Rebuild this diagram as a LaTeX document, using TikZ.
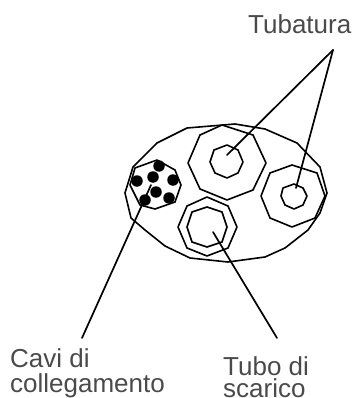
\documentclass[tikz,border=0pt]{standalone}
\usepackage{fontspec}
\setmainfont{Liberation Sans}
\definecolor{labelgrey}{HTML}{4A4A4A}
\tikzset{
  px/.style={x=1pt,y=-1pt},
  wire/.style={draw=black,line width=1.7pt,line join=round,line cap=round},
  thinwire/.style={draw=black,line width=1.6pt,line join=round},
  strand/.style={circle,fill=black,draw=none,minimum size=11.5pt,inner sep=0pt},
  lbl/.style={anchor=base west,inner sep=0pt,text=labelgrey,font=\fontsize{26pt}{28pt}\selectfont}
}
\begin{document}
\begin{tikzpicture}[px]
\useasboundingbox (0,0) rectangle (353,398);
\clip (0,0) rectangle (353,398);
% outer sheath
\draw[thinwire] (187,128)--(235,124)--(265,129)--(297,143)--(320,167)--(327,193)--(320,213)--(308,230)--(285,248)--(265,257)--(228,262)--(190,258)--(165,246)--(145,230)--(131,218)--(125,193)--(133,167)--(157,143)--cycle;
% cable bundle
\draw[thinwire] (130,185)--(135,168)--(157,160)--(175,170)--(181,185)--(175,202)--(155,209)--(140,205)--cycle;
\node[strand] (s1) at (159,166) {};
\node[strand] (s2) at (137,181) {};
\node[strand] (s3) at (153,177) {};
\node[strand] (s4) at (173,180) {};
\node[strand] (s5) at (156,192) {};
\node[strand] (s6) at (169,198) {};
\node[strand] (s7) at (145,200) {};
% pipe 1
\draw[thinwire] (222,125)--(200,135)--(188,163)--(200,189)--(227,200)--(253,190)--(266,163)--(253,135)--cycle;
\draw[thinwire] (227,145)--(214,150)--(210,162)--(215,173)--(227,178)--(238,173)--(243,162)--(238,150)--cycle;
% pipe 2
\draw[thinwire] (292,165)--(270,173)--(261,196)--(270,218)--(292,227)--(315,218)--(325,196)--(317,173)--cycle;
\draw[thinwire] (294,184)--(283,188)--(281,196)--(285,205)--(294,209)--(303,205)--(307,196)--(303,188)--cycle;
% pipe 3
\draw[thinwire] (207,197)--(187,206)--(178,227)--(187,248)--(207,256)--(228,248)--(237,227)--(228,206)--cycle;
\draw[thinwire] (207,207)--(192,212)--(187,227)--(192,242)--(207,247)--(222,242)--(227,227)--(222,212)--cycle;
% connector ends
\coordinate (apex) at (333,50);
\coordinate (p1) at (227,155);
\coordinate (p2) at (296,188);
\coordinate (p3) at (213,232);
\coordinate (p3e) at (277,338);
\coordinate (b) at (151,185);
\coordinate (be) at (82,338);
\draw[wire] (apex)--(p1);
\draw[wire] (apex)--(p2);
\draw[wire] (p3)--(p3e);
\draw[wire] (b)--(be);
% labels
\node[lbl] (t1) at (248,34) {Tubatura};
\node[lbl] (t2) at (10,367) {Cavi di};
\node[lbl] (t3) at (10,392) {collegamento};
\node[lbl] (t4) at (223,375) {Tubo di};
\node[lbl] (t5) at (223,397) {scarico};
\end{tikzpicture}
\end{document}
